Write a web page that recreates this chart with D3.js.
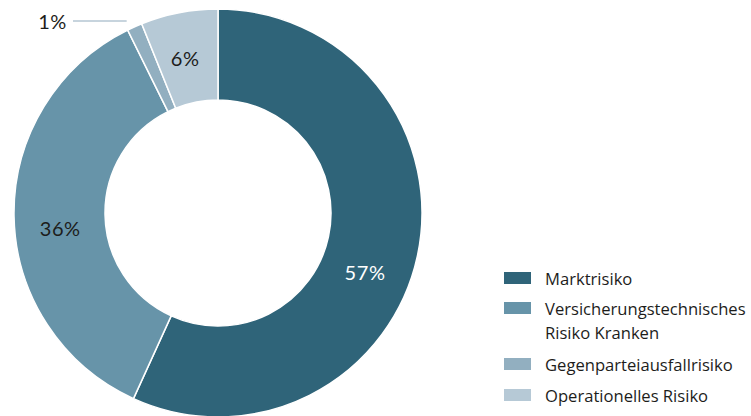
<!DOCTYPE html>
<html><head><meta charset="utf-8">
<script src="https://cdn.jsdelivr.net/npm/d3@7"></script>
<style>body{margin:0;background:#fff}svg{display:block;font-family:Lato,"Open Sans",sans-serif}</style>
</head><body>
<svg id="c" width="751" height="416"></svg>
<script>
const categories = ["Marktrisiko", "Versicherungstechnisches Risiko Kranken", "Gegenparteiausfallrisiko", "Operationelles Risiko"];
const legendLines = [["Marktrisiko"], ["Versicherungstechnisches", "Risiko Kranken"], ["Gegenparteiausfallrisiko"], ["Operationelles Risiko"]];
const values = [56.8, 35.9, 1.2, 6.1];
const colors = ["#2f6479", "#6794a9", "#92afc0", "#b6c9d6"];
const labelColors = ["#ffffff", "#1d1d1b", "#1d1d1b", "#1d1d1b"];
const labelAngleShift = [9.6, -4.5, 0, -1]; // degrees, visual placement
const outside = [false, false, true, false];

const svg = d3.select("#c");
const cx = 218, cy = 213, R = 204, r = 113;
const g = svg.append("g").attr("transform", `translate(${cx},${cy})`);
const pie = d3.pie().sort(null).value(d => d)(values);
const arc = d3.arc().innerRadius(r).outerRadius(R);
g.selectAll("path").data(pie).join("path")
  .attr("d", arc).attr("fill", (d, i) => colors[i])
  .attr("stroke", "#fff").attr("stroke-width", 1.5);

const lr = (r + R) / 2;
pie.forEach((d, i) => {
  const a = (d.startAngle + d.endAngle) / 2 + labelAngleShift[i] * Math.PI / 180;
  const txt = Math.round(values[i]) + "%";
  if (!outside[i]) {
    g.append("text").attr("x", lr * Math.sin(a)).attr("y", -lr * Math.cos(a))
      .attr("text-anchor", "middle").attr("dominant-baseline", "central")
      .attr("font-size", 20).attr("letter-spacing", 0.6).attr("fill", labelColors[i]).text(txt);
  } else {
    const ly = -192;
    const ex = R * Math.sin(d.startAngle) - 1;
    g.append("line").attr("x1", ex).attr("y1", ly).attr("x2", -145).attr("y2", ly)
      .attr("stroke", "#8fa9bc").attr("stroke-width", 1);
    g.append("text").attr("x", -151).attr("y", ly).attr("text-anchor", "end")
      .attr("dominant-baseline", "central").attr("font-size", 20).attr("letter-spacing", 0.6).attr("fill", labelColors[i]).text(txt);
  }
});

const lg = svg.append("g").style("font-family", "'Open Sans', Lato, sans-serif");
const itemY = [272, 302, 358, 389];
legendLines.forEach((lines, i) => {
  lg.append("rect").attr("x", 504).attr("y", itemY[i]).attr("width", 27).attr("height", 12).attr("fill", colors[i]);
  lines.forEach((t, j) => {
    lg.append("text").attr("x", 545).attr("y", itemY[i] + 13 + j * 24)
      .attr("font-size", 16.6).attr("fill", "#1d1d1b").text(t);
  });
});
</script>
</body></html>
